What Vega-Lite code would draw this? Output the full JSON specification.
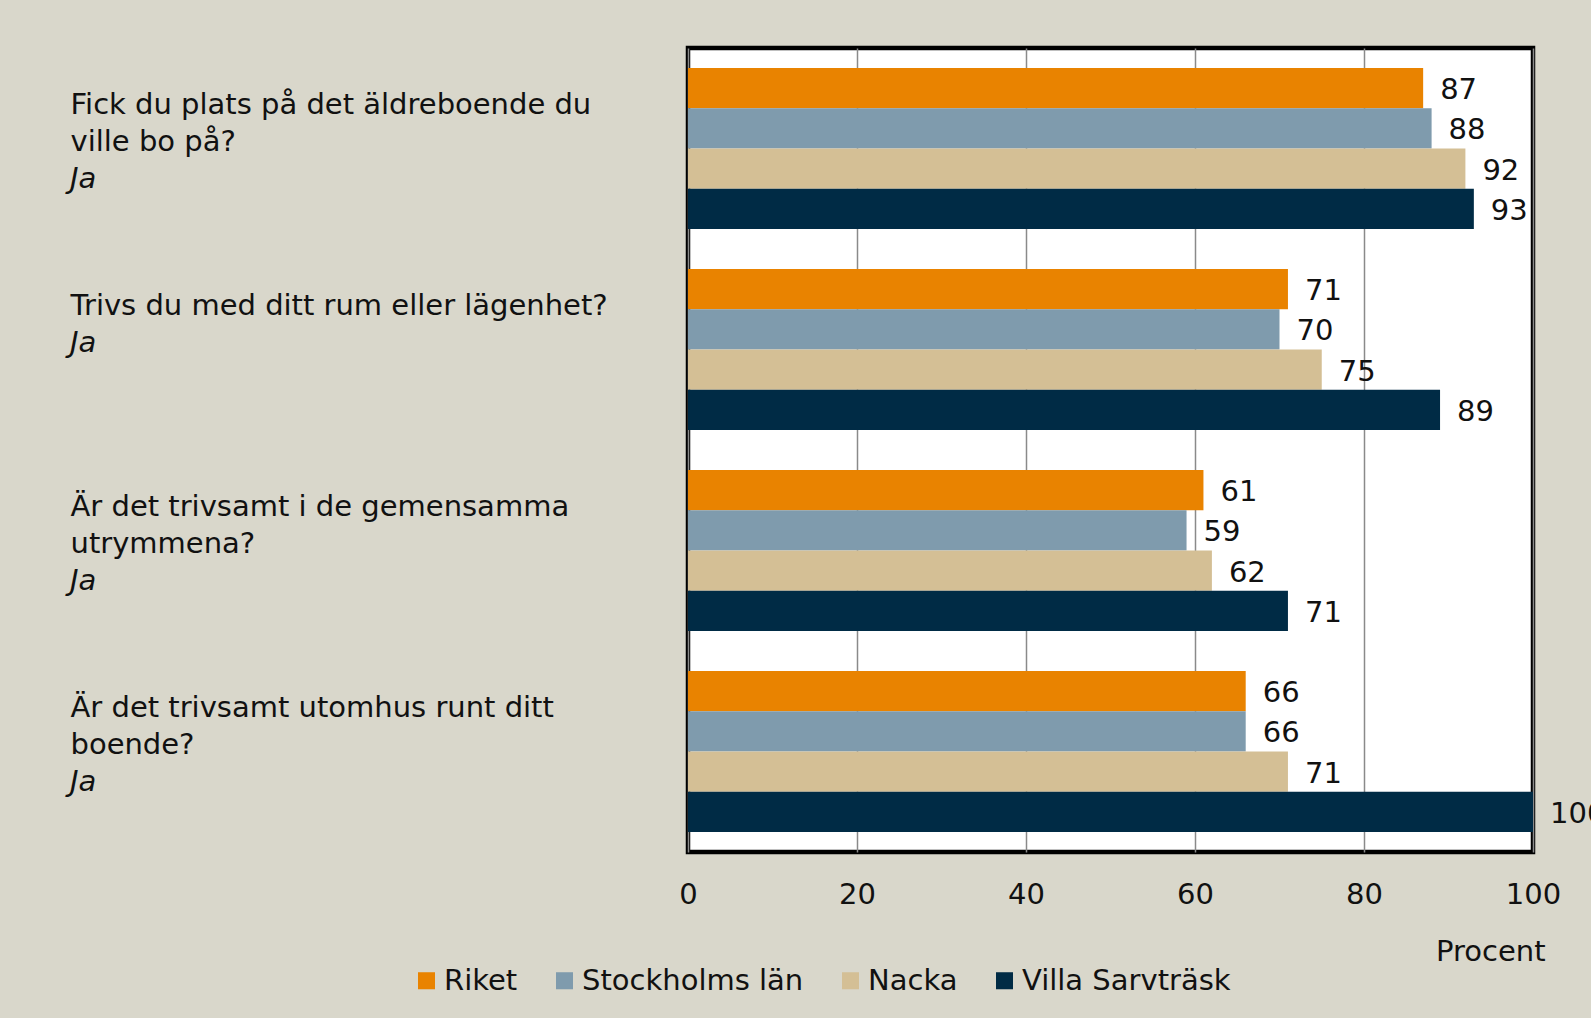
{
  "$schema": "https://vega.github.io/schema/vega-lite/v6.json",
  "autosize": {"type": "none"},
  "width": 845,
  "height": 804,
  "padding": {"left": 688, "top": 48, "right": 58, "bottom": 166},
  "background": "#D9D7CB",
  "config": {
    "view": {"fill": "#ffffff", "stroke": "#000000", "strokeWidth": 4.5},
    "font": "DejaVu Sans",
    "text": {"font": "DejaVu Sans", "fontSize": 29, "color": "#111111"}
  },
  "data": {
    "values": [
      {"question": "Fick du plats på det äldreboende du|ville bo på?", "series": "Riket", "value": 87},
      {"question": "Fick du plats på det äldreboende du|ville bo på?", "series": "Stockholms län", "value": 88},
      {"question": "Fick du plats på det äldreboende du|ville bo på?", "series": "Nacka", "value": 92},
      {"question": "Fick du plats på det äldreboende du|ville bo på?", "series": "Villa Sarvträsk", "value": 93},
      {"question": "Trivs du med ditt rum eller lägenhet?", "series": "Riket", "value": 71},
      {"question": "Trivs du med ditt rum eller lägenhet?", "series": "Stockholms län", "value": 70},
      {"question": "Trivs du med ditt rum eller lägenhet?", "series": "Nacka", "value": 75},
      {"question": "Trivs du med ditt rum eller lägenhet?", "series": "Villa Sarvträsk", "value": 89},
      {"question": "Är det trivsamt i de gemensamma|utrymmena?", "series": "Riket", "value": 61},
      {"question": "Är det trivsamt i de gemensamma|utrymmena?", "series": "Stockholms län", "value": 59},
      {"question": "Är det trivsamt i de gemensamma|utrymmena?", "series": "Nacka", "value": 62},
      {"question": "Är det trivsamt i de gemensamma|utrymmena?", "series": "Villa Sarvträsk", "value": 71},
      {"question": "Är det trivsamt utomhus runt ditt|boende?", "series": "Riket", "value": 66},
      {"question": "Är det trivsamt utomhus runt ditt|boende?", "series": "Stockholms län", "value": 66},
      {"question": "Är det trivsamt utomhus runt ditt|boende?", "series": "Nacka", "value": 71},
      {"question": "Är det trivsamt utomhus runt ditt|boende?", "series": "Villa Sarvträsk", "value": 100}
    ]
  },
  "encoding": {
    "y": {
      "field": "question",
      "type": "nominal",
      "sort": null,
      "scale": {"paddingInner": 0.2, "paddingOuter": 0.1},
      "axis": {
        "title": null,
        "domain": false,
        "ticks": false,
        "tickSize": 0,
        "grid": false,
        "labelExpr": "split(datum.label, '|')",
        "labelAlign": "left",
        "labelBaseline": "alphabetic",
        "labelPadding": 618,
        "labelOffset": -35,
        "labelLimit": 0,
        "labelFont": "DejaVu Sans",
        "labelFontSize": 29,
        "labelLineHeight": 37,
        "labelColor": "#111111"
      }
    }
  },
  "layer": [
    {
      "mark": {"type": "bar"},
      "encoding": {
        "yOffset": {
          "field": "series",
          "type": "nominal",
          "sort": ["Riket", "Stockholms län", "Nacka", "Villa Sarvträsk"],
          "scale": {"paddingInner": 0, "paddingOuter": 0}
        },
        "x": {
          "field": "value",
          "type": "quantitative",
          "scale": {"domain": [0, 100], "nice": false},
          "axis": {
            "values": [0, 20, 40, 60, 80, 100],
            "title": "Procent",
            "titleFont": "DejaVu Sans",
            "titleFontSize": 29,
            "titleFontWeight": "normal",
            "titleColor": "#111111",
            "titleAlign": "right",
            "titleBaseline": "alphabetic",
            "titleX": 857,
            "titleY": 108,
            "domain": false,
            "ticks": false,
            "tickSize": 0,
            "labelPadding": 28,
            "labelFlush": false,
            "labelFont": "DejaVu Sans",
            "labelFontSize": 29,
            "labelColor": "#111111",
            "grid": true,
            "gridColor": "#8a8a8a",
            "gridWidth": 1.5
          }
        },
        "color": {
          "field": "series",
          "type": "nominal",
          "scale": {
            "domain": ["Riket", "Stockholms län", "Nacka", "Villa Sarvträsk"],
            "range": ["#E98300", "#7F9BAD", "#D4BF95", "#002B45"]
          },
          "legend": {
            "title": null,
            "orient": "none",
            "direction": "horizontal",
            "legendX": -276,
            "legendY": 918,
            "padding": 0,
            "symbolType": "square",
            "symbolSize": 290,
            "symbolStrokeWidth": 0,
            "symbolOpacity": 1,
            "labelFont": "DejaVu Sans",
            "labelFontSize": 29,
            "labelColor": "#111111",
            "labelOffset": 3,
            "labelLimit": 0,
            "columnPadding": 32
          }
        }
      }
    },
    {
      "mark": {"type": "text", "align": "left", "baseline": "middle", "dx": 17, "dy": 2},
      "encoding": {
        "yOffset": {
          "field": "series",
          "type": "nominal",
          "sort": ["Riket", "Stockholms län", "Nacka", "Villa Sarvträsk"],
          "scale": {"paddingInner": 0, "paddingOuter": 0}
        },
        "x": {"field": "value", "type": "quantitative"},
        "text": {"field": "value", "type": "quantitative"}
      }
    },
    {
      "transform": [
        {"filter": "datum.series === 'Riket' && indexof(datum.question, '|') >= 0"}
      ],
      "mark": {"type": "text", "align": "left", "baseline": "alphabetic", "dx": -618, "dy": 39, "fontStyle": "italic", "text": "Ja"},
      "encoding": {
        "x": {"datum": 0, "type": "quantitative"}
      }
    },
    {
      "transform": [
        {"filter": "datum.series === 'Riket' && indexof(datum.question, '|') < 0"}
      ],
      "mark": {"type": "text", "align": "left", "baseline": "alphabetic", "dx": -618, "dy": 2, "fontStyle": "italic", "text": "Ja"},
      "encoding": {
        "x": {"datum": 0, "type": "quantitative"}
      }
    }
  ]
}
